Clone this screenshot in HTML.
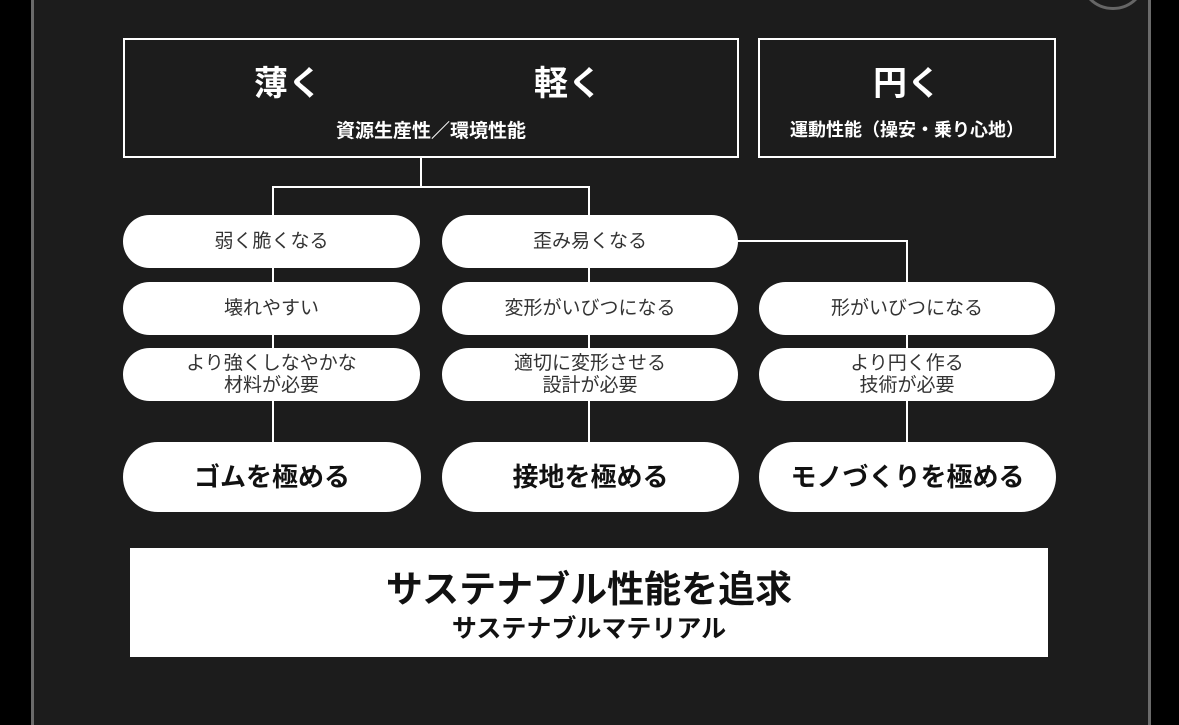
<!DOCTYPE html>
<html><head><meta charset="utf-8"><style>
html,body{margin:0;padding:0;background:#000;}
body{width:1179px;height:718px;position:relative;overflow:hidden;font-family:"Liberation Sans","Noto Sans CJK JP",sans-serif;}
.panel{position:absolute;left:31px;top:-5px;width:1114px;height:730px;background:#1c1c1c;border-left:3px solid #6a6a6a;border-right:3px solid #6a6a6a;}
.circ{position:absolute;left:1079px;top:-58px;width:62px;height:62px;border:3px solid #666;border-radius:50%;}
.box{position:absolute;border:2px solid #fff;box-sizing:border-box;color:#fff;}
.pill{position:absolute;background:#fff;border-radius:27px;color:#333;font-size:19px;text-align:center;display:flex;align-items:center;justify-content:center;line-height:22px;}
.big{border-radius:36px;font-size:26px;font-weight:bold;color:#111;}
.l{position:absolute;background:#fff;}
.t{position:absolute;font-weight:bold;white-space:nowrap;}
</style></head><body>
<div class="panel"></div>
<div class="circ"></div>
<div class="box" style="left:123px;top:38px;width:616px;height:120px;"></div>
<div class="t" style="left:254px;top:56px;font-size:34px;color:#fff;">薄く</div>
<div class="t" style="left:534px;top:56px;font-size:34px;color:#fff;">軽く</div>
<div class="t" style="left:123px;width:616px;text-align:center;top:116px;font-size:19px;color:#fff;">資源生産性／環境性能</div>
<div class="box" style="left:758px;top:38px;width:298px;height:120px;"></div>
<div class="t" style="left:758px;width:298px;text-align:center;top:56px;font-size:34px;color:#fff;">円く</div>
<div class="t" style="left:758px;width:298px;text-align:center;top:116px;font-size:18px;color:#fff;">運動性能（操安・乗り心地）</div>
<div class="l" style="left:420px;top:157px;width:2px;height:31px;"></div>
<div class="l" style="left:272px;top:186px;width:318px;height:2px;"></div>
<div class="l" style="left:272px;top:186px;width:2px;height:260px;"></div>
<div class="l" style="left:588px;top:186px;width:2px;height:260px;"></div>
<div class="l" style="left:737px;top:240px;width:171px;height:2px;"></div>
<div class="l" style="left:906px;top:240px;width:2px;height:205px;"></div>
<div class="pill" style="left:123px;top:215px;width:297px;height:53px;">弱く脆くなる</div>
<div class="pill" style="left:442px;top:215px;width:296px;height:53px;">歪み易くなる</div>
<div class="pill" style="left:123px;top:282px;width:297px;height:53px;">壊れやすい</div>
<div class="pill" style="left:442px;top:282px;width:296px;height:53px;">変形がいびつになる</div>
<div class="pill" style="left:759px;top:282px;width:296px;height:53px;">形がいびつになる</div>
<div class="pill" style="left:123px;top:348px;width:297px;height:53px;">より強くしなやかな<br>材料が必要</div>
<div class="pill" style="left:442px;top:348px;width:296px;height:53px;">適切に変形させる<br>設計が必要</div>
<div class="pill" style="left:759px;top:348px;width:296px;height:53px;">より円く作る<br>技術が必要</div>
<div class="pill big" style="left:123px;top:442px;width:298px;height:70px;">ゴムを極める</div>
<div class="pill big" style="left:442px;top:442px;width:297px;height:70px;">接地を極める</div>
<div class="pill big" style="left:759px;top:442px;width:297px;height:70px;">モノづくりを極める</div>
<div style="position:absolute;left:130px;top:548px;width:918px;height:109px;background:#fff;"></div>
<div class="t" style="left:130px;width:918px;text-align:center;top:559px;font-size:37px;color:#111;">サステナブル性能を追求</div>
<div class="t" style="left:130px;width:918px;text-align:center;top:609px;font-size:25px;color:#111;">サステナブルマテリアル</div>
</body></html>
